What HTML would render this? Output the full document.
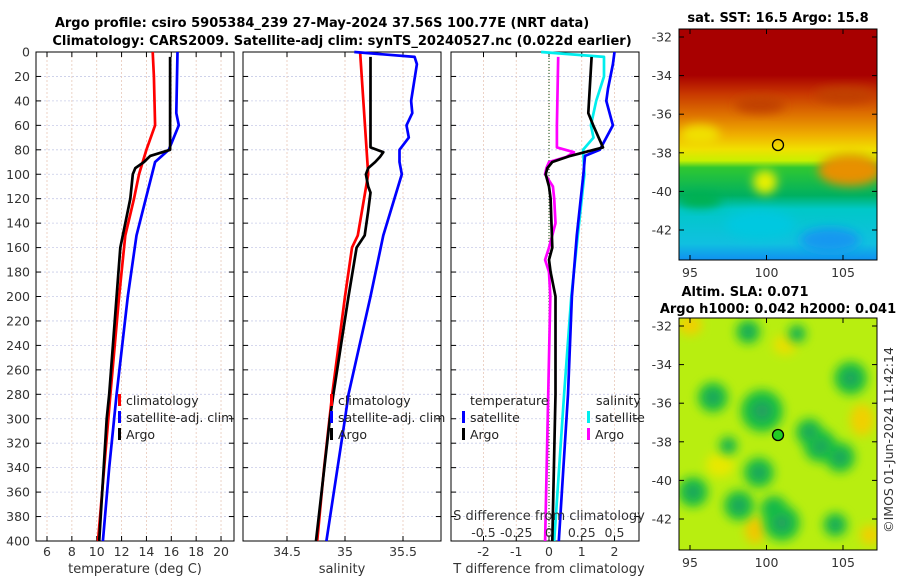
<!DOCTYPE html>
<html><head><meta charset="utf-8"><style>
body{margin:0;background:#fff;}
svg{display:block;font-family:"DejaVu Sans","Liberation Sans",sans-serif;}
.tk{font-size:12.5px;fill:#333;}
.tt{font-size:13px;font-weight:bold;fill:#000;}
.lg{font-size:12.5px;fill:#222;}
</style></head><body>
<svg id="c" width="900" height="580" viewBox="0 0 900 580">
<defs>
<linearGradient id="sstg" x1="0" y1="0" x2="0" y2="1">
<stop offset="0" stop-color="#a80000"/><stop offset="0.2" stop-color="#a80000"/>
<stop offset="0.28" stop-color="#c83800"/><stop offset="0.38" stop-color="#e07800"/>
<stop offset="0.46" stop-color="#f0b000"/><stop offset="0.52" stop-color="#f0e000"/>
<stop offset="0.57" stop-color="#c8f000"/><stop offset="0.6" stop-color="#30c830"/>
<stop offset="0.72" stop-color="#00b060"/><stop offset="0.78" stop-color="#00c8c8"/>
<stop offset="0.93" stop-color="#10c0e0"/><stop offset="1" stop-color="#1090f0"/></linearGradient>
<filter id="bl" x="-50%" y="-50%" width="200%" height="200%"><feGaussianBlur stdDeviation="5"/></filter>
<clipPath id="m1c"><rect x="679" y="29" width="198" height="231"/></clipPath>
<clipPath id="m2c"><rect x="679" y="318" width="198" height="232"/></clipPath>
</defs>
<text class="tt" x="322" y="27" text-anchor="middle">Argo profile: csiro 5905384_239 27-May-2024 37.56S 100.77E (NRT data)</text>
<text class="tt" x="342" y="45" text-anchor="middle">Climatology: CARS2009. Satellite-adj clim: synTS_20240527.nc (0.022d earlier)</text>
<g id="panels"></g>
<g clip-path="url(#m1c)">
<rect x="679" y="29" width="198" height="231" fill="url(#sstg)"/>
<ellipse cx="850" cy="170" rx="32" ry="16" fill="#e89000" filter="url(#bl)"/>
<ellipse cx="760" cy="105" rx="25" ry="8" fill="#c04000" filter="url(#bl)"/>
<ellipse cx="845" cy="95" rx="30" ry="8" fill="#c04000" filter="url(#bl)"/>
<ellipse cx="765" cy="182" rx="12" ry="12" fill="#e8f000" filter="url(#bl)"/>
<ellipse cx="700" cy="135" rx="20" ry="10" fill="#f0e000" filter="url(#bl)"/>
<ellipse cx="760" cy="225" rx="35" ry="14" fill="#00c8e0" filter="url(#bl)"/>
<ellipse cx="830" cy="240" rx="30" ry="12" fill="#1898f0" filter="url(#bl)"/>
<ellipse cx="700" cy="200" rx="22" ry="8" fill="#00b050" filter="url(#bl)"/>
</g>
<rect x="679" y="29" width="198" height="231" fill="none" stroke="#000"/>
<text class="tt" x="778" y="22" text-anchor="middle">sat. SST: 16.5 Argo: 15.8</text>
<circle cx="778" cy="145" r="5.5" fill="none" stroke="#000" stroke-width="1.3"/>
<g clip-path="url(#m2c)">
<rect x="679" y="318" width="198" height="232" fill="#b8ee10"/>
<g filter="url(#bl)">
<ellipse cx="690" cy="325" rx="12" ry="10" fill="#f0d000"/>
<ellipse cx="785" cy="345" rx="12" ry="10" fill="#e8e000"/>
<ellipse cx="862" cy="420" rx="12" ry="16" fill="#f0d000"/>
<ellipse cx="720" cy="465" rx="14" ry="12" fill="#e8e800"/>
<ellipse cx="755" cy="530" rx="10" ry="14" fill="#f0c800"/>
<ellipse cx="870" cy="535" rx="10" ry="10" fill="#f0d000"/>
</g>
<g id="slab" filter="url(#bl)"></g>
</g>
<rect x="679" y="318" width="198" height="232" fill="none" stroke="#000"/>
<text class="tt" x="745" y="296" text-anchor="middle">Altim. SLA: 0.071</text>
<text class="tt" x="778" y="313" text-anchor="middle">Argo h1000: 0.042 h2000: 0.041</text>
<circle cx="778" cy="435" r="5.5" fill="#22cc22" stroke="#000" stroke-width="1.3"/>
<text class="tk" transform="translate(893,440) rotate(-90)" text-anchor="middle">©IMOS 01-Jun-2024 11:42:14</text>
</svg>
<script>
// ---- data ----
const depthTicks=[0,20,40,60,80,100,120,140,160,180,200,220,240,260,280,300,320,340,360,380,400];
const tempTicks=[6,8,10,12,14,16,18,20];
const salTicks=[34.5,35,35.5];
const tdiffTicks=[-2,-1,0,1,2];
const sdiffTicks=[-0.5,-0.25,0,0.25,0.5];
const sdiffLabels=["-0.5","-0.25","0","0.25","0.5"];
const latTicks=[-32,-34,-36,-38,-40,-42];
const lonTicks=[95,100,105];

const tClimD=[0,20,60,80,100,120,150,200,280,340,400];
const tClimV=[14.5,14.6,14.7,14.0,13.4,13.0,12.3,11.8,11.1,10.6,10.1];
const tSatD=[0,50,60,80,90,150,200,280,340,400];
const tSatV=[16.5,16.4,16.6,15.8,14.7,13.2,12.5,11.6,11.0,10.5];
const tArgoD=[4,75,80,85,90,95,100,120,150,160,200,280,300,400];
const tArgoV=[15.9,15.9,15.9,14.3,13.8,13.1,12.9,12.7,12.1,11.9,11.6,11.0,10.8,10.2];

const sClimD=[0,100,150,160,200,280,340,400];
const sClimV=[35.13,35.2,35.11,35.06,35.0,34.89,34.82,34.76];
const sSatD=[0,4,10,40,50,60,70,80,90,100,150,200,280,300,400];
const sSatV=[35.08,35.6,35.62,35.57,35.58,35.53,35.55,35.47,35.47,35.49,35.33,35.22,35.03,35.0,34.84];
const sArgoD=[4,78,82,86,90,95,100,110,115,130,150,160,200,280,300,400];
const sArgoV=[35.22,35.22,35.33,35.3,35.26,35.2,35.18,35.2,35.22,35.2,35.17,35.1,35.03,34.9,34.87,34.75];

const dtSatD=[0,10,30,40,60,80,85,100,150,200,280,400];
const dtSatV=[2.0,1.95,1.8,1.75,1.95,1.55,1.1,1.05,0.85,0.7,0.58,0.3];
const dtArgoD=[4,50,60,78,85,90,95,100,110,120,160,170,180,200,280,400];
const dtArgoV=[1.3,1.2,1.35,1.65,0.65,0.1,-0.05,-0.1,0.0,0.05,0.1,0.0,0.05,0.2,0.2,0.1];
const dsSatD=[0,4,20,40,60,70,80,100,150,200,280,400];
const dsSatV=[-0.06,0.42,0.42,0.36,0.32,0.34,0.26,0.27,0.22,0.17,0.115,0.04];
const dsArgoD=[4,60,78,82,86,90,95,100,110,120,140,160,170,180,200,250,300,400];
const dsArgoV=[0.07,0.06,0.06,0.19,0.13,0.0,-0.02,-0.03,0.03,0.04,0.05,0.0,-0.03,0.0,0.01,0.0,-0.01,-0.03];

const slaX=[96.5,99.7,97.5,100.5,103.5,104.8,105.5,95.2,98.2,101,104.5,99.5,102.8,98.8,102];
const slaY=[-35.7,-36.4,-38.2,-41.5,-38.2,-38.8,-34.7,-40.6,-41.3,-42.2,-42.3,-39.6,-37.5,-32.3,-32.4];
const slaR=[1.0,1.4,0.6,0.9,1.1,1.0,1.1,1.0,1.0,1.2,0.8,1.0,0.9,0.8,0.6];

// ---- scales ----
const yD=d=>52+d*(489/400);
const xT=t=>47+(t-6)*12.43;
const xS=s=>345+(s-35)*116;
const xDT=v=>549+v*32.75;
const xDS=v=>549+v*131;
const NS='http://www.w3.org/2000/svg';
const root=document.getElementById('panels');
function mk(tag,at,parent){const e=document.createElementNS(NS,tag);for(const k in at)e.setAttribute(k,at[k]);(parent||root).appendChild(e);return e;}

function panel(name,x0,x1,xs,ticks,labels,yLabels){
  const g=mk('g',{});
  
  
  depthTicks.forEach(d=>{
    const l=mk('line',{x1:x0,x2:x1,y1:yD(d),y2:yD(d),stroke:'#c8cce8','stroke-width':0.8,'stroke-dasharray':'2,2'},g);
    
    
    mk('line',{x1:x0,x2:x0+5,y1:yD(d),y2:yD(d),stroke:'#000'},g);
    mk('line',{x1:x1-5,x2:x1,y1:yD(d),y2:yD(d),stroke:'#000'},g);
    if(yLabels){const t=mk('text',{x:30,y:yD(d)+4.5,'text-anchor':'end',class:'tk'},g);t.textContent=d;
      
      }
  });
  ticks.forEach((v,i)=>{
    const l=mk('line',{x1:xs(v),x2:xs(v),y1:52,y2:541,stroke:'#e8c8b8','stroke-width':0.8,'stroke-dasharray':'2,2'},g);
    
    
    mk('line',{x1:xs(v),x2:xs(v),y1:541,y2:536,stroke:'#000'},g);
    mk('line',{x1:xs(v),x2:xs(v),y1:52,y2:57,stroke:'#000'},g);
    const t=mk('text',{x:xs(v),y:556,'text-anchor':'middle',class:'tk'},g);t.textContent=labels?labels[i]:v;
    
    
  });
  const r=mk('rect',{x:x0,y:52,width:x1-x0,height:489,fill:'none',stroke:'#000'},g);
  
  
  return g;
}
function line(name,D,V,xs,color,g,w){
  const p=mk('polyline',{points:D.map((d,i)=>xs(V[i]).toFixed(1)+','+yD(d).toFixed(1)).join(' '),fill:'none',stroke:color,'stroke-width':w||2.7,'stroke-linejoin':'round'},g);
  
  
}
function txt(s,x,y,cls,anchor,name,g){const t=mk('text',{x:x,y:y,class:cls,'text-anchor':anchor||'start'},g);t.textContent=s;
  
  return t;}
function leg(s,x,y,color,name,g){mk('rect',{x:x,y:y-11,width:3,height:12,fill:color},g);txt(s,x+8,y,'lg','start',name,g);}

const g1=panel('temperature-panel',36,234,xT,tempTicks,null,true);
line('temp-climatology-line',tClimD,tClimV,xT,'#ff0000',g1);
line('temp-satellite-line',tSatD,tSatV,xT,'#0000ff',g1);
line('temp-argo-line',tArgoD,tArgoV,xT,'#000000',g1);
txt('temperature (deg C)',135,573,'tk','middle','temperature-axis-title',g1).style.fontSize='13px';
leg('climatology',118,405,'#ff0000','legend-climatology',g1);
leg('satellite-adj. clim',118,422,'#0000ff','legend-satellite',g1);
leg('Argo',118,439,'#000','legend-argo',g1);

const g2=panel('salinity-panel',243,441,xS,salTicks,null,false);
line('sal-climatology-line',sClimD,sClimV,xS,'#ff0000',g2);
line('sal-satellite-line',sSatD,sSatV,xS,'#0000ff',g2);
line('sal-argo-line',sArgoD,sArgoV,xS,'#000000',g2);
txt('salinity',342,573,'tk','middle','salinity-axis-title',g2).style.fontSize='13px';
leg('climatology',330,405,'#ff0000','legend-climatology',g2);
leg('satellite-adj. clim',330,422,'#0000ff','legend-satellite',g2);
leg('Argo',330,439,'#000','legend-argo',g2);

const g3=panel('difference-panel',451,639,xDT,tdiffTicks,null,false);
mk('line',{x1:549,x2:549,y1:52,y2:541,stroke:'#336633','stroke-width':1.2,'stroke-dasharray':'1,2'},g3);
line('sal-diff-satellite-line',dsSatD,dsSatV,xDS,'#00eeee',g3);
line('temp-diff-satellite-line',dtSatD,dtSatV,xDT,'#0000ff',g3);
line('sal-diff-argo-line',dsArgoD,dsArgoV,xDS,'#ff00ff',g3);
line('temp-diff-argo-line',dtArgoD,dtArgoV,xDT,'#000000',g3);
txt('T difference from climatology',549,573,'tk','middle','t-diff-axis-title',g3).style.fontSize='13px';
txt('S difference from climatology',549,520,'tk','middle','s-diff-axis-title',g3).style.fontSize='13px';
sdiffTicks.forEach((v,i)=>txt(sdiffLabels[i],xDS(v),537,'tk','middle','s-diff-tick-label',g3));
txt('temperature',470,405,'lg','start','legend-temperature-header',g3);
leg('satellite',462,422,'#0000ff','legend-t-satellite',g3);
leg('Argo',462,439,'#000','legend-t-argo',g3);
txt('salinity',596,405,'lg','start','legend-salinity-header',g3);
leg('satellite',587,422,'#00eeee','legend-s-satellite',g3);
leg('Argo',587,439,'#ff00ff','legend-s-argo',g3);

// maps axes
const svg=document.getElementById('c');
const lonX=l=>690+(l-95)*15.3;
function mapAxes(name,top,bottom,lat0y){
  const g=mk('g',{},svg);
  
  
  latTicks.forEach(l=>{const y=lat0y+(-32-l)*19.3;
    mk('line',{x1:679,x2:684,y1:y,y2:y,stroke:'#000'},g);mk('line',{x1:872,x2:877,y1:y,y2:y,stroke:'#000'},g);
    txt(String(l),672,y+4.5,'tk','end','lat-tick-label',g);});
  lonTicks.forEach(l=>{const x=lonX(l);
    mk('line',{x1:x,x2:x,y1:bottom,y2:bottom-5,stroke:'#000'},g);mk('line',{x1:x,x2:x,y1:top,y2:top+5,stroke:'#000'},g);
    txt(String(l),x,bottom+17,'tk','middle','lon-tick-label',g);});
}
mapAxes('sst-map-axes',29,260,37);
mapAxes('sla-map-axes',318,550,326);
const slab=document.getElementById('slab');
slaX.forEach((lx,i)=>{
  const e=mk('ellipse',{cx:lonX(lx),cy:326+(-32-slaY[i])*19.3,rx:slaR[i]*15,ry:slaR[i]*15,fill:'#18c040'},slab);
  
  
  const c=mk('ellipse',{cx:lonX(lx),cy:326+(-32-slaY[i])*19.3,rx:slaR[i]*7,ry:slaR[i]*7,fill:'#20a060'},slab);
  
  
});
</script>
</body></html>
